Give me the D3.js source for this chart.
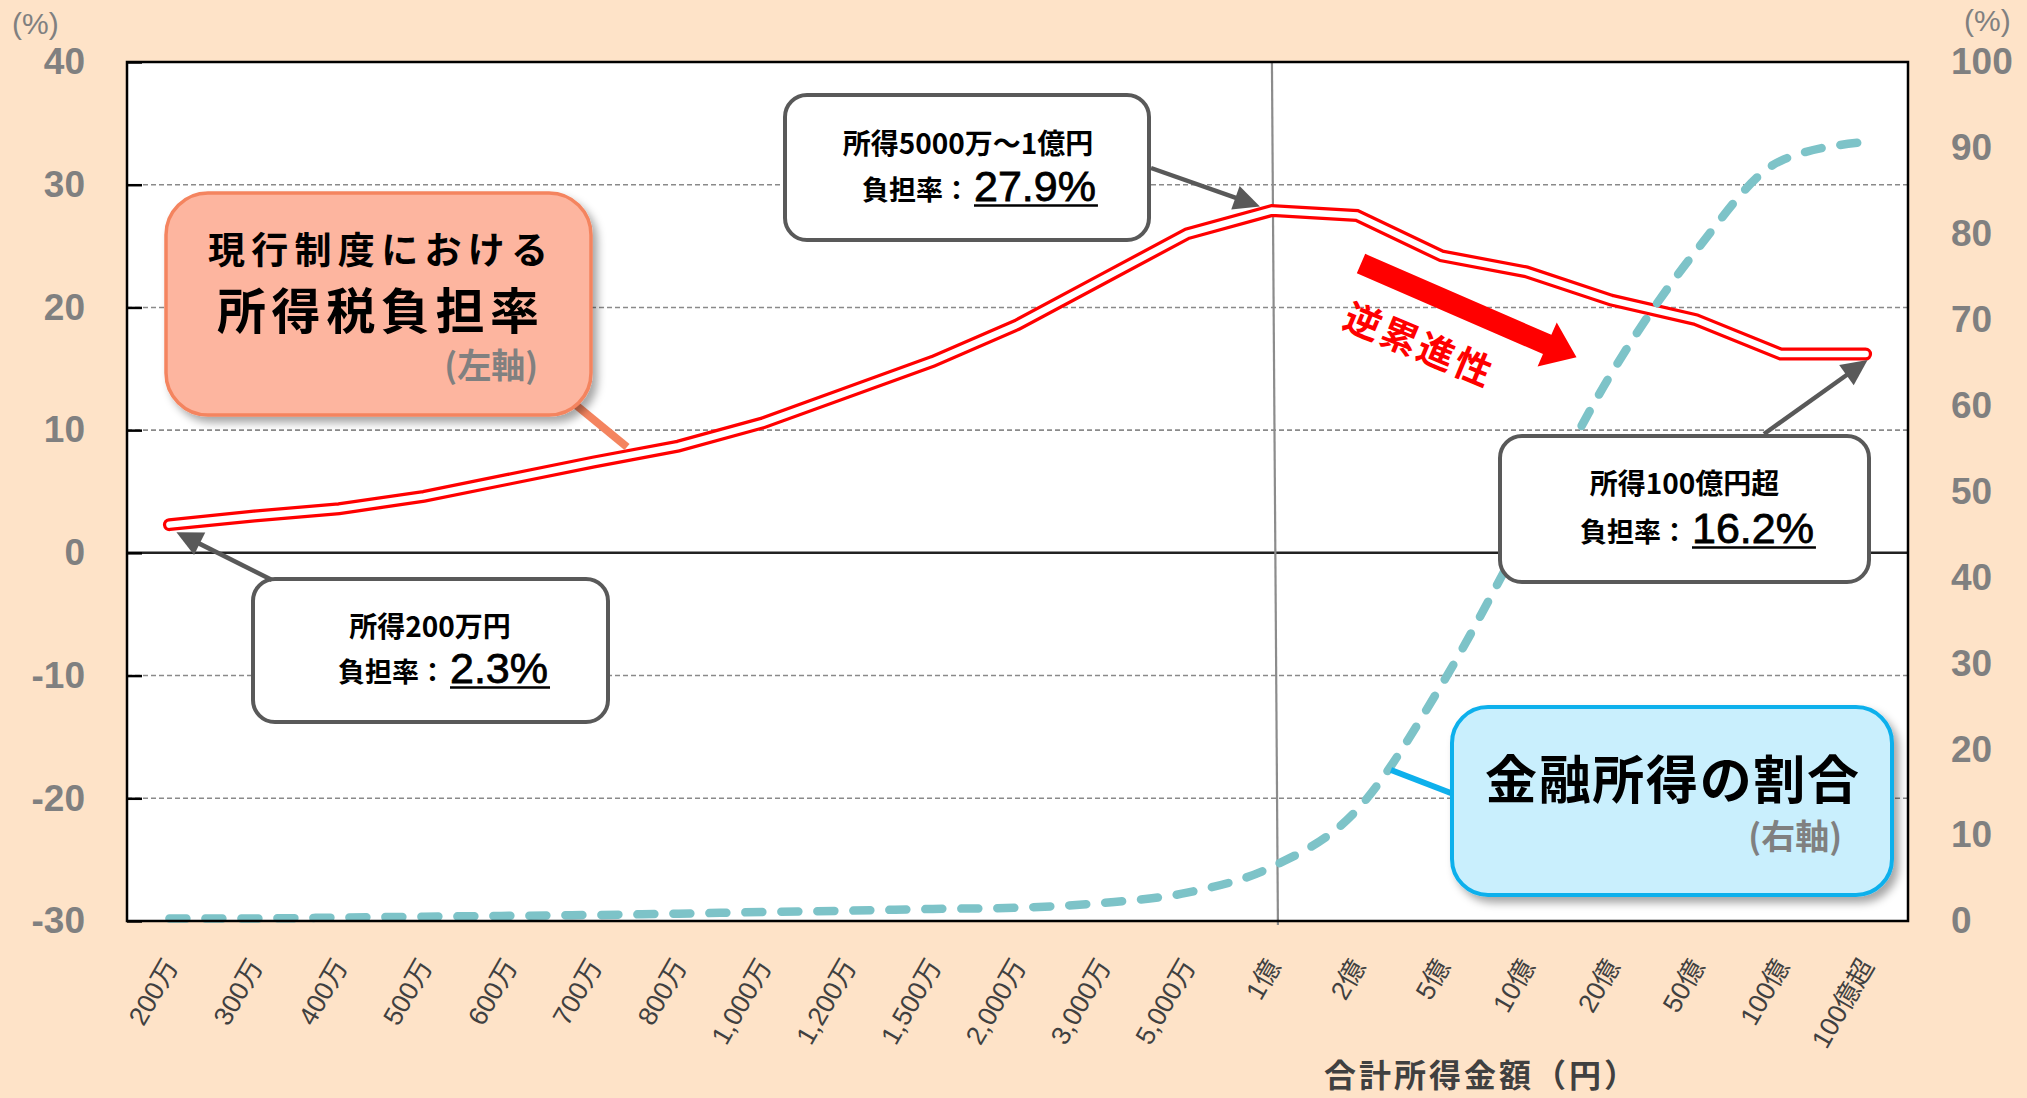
<!DOCTYPE html>
<html>
<head>
<meta charset="utf-8">
<script src="https://cdn.jsdelivr.net/npm/d3@7"></script>
<style>
  html, body { margin: 0; padding: 0; background: #FEE3C8; }
  svg { display: block; }
</style>
</head>
<body>
<svg id="chart" width="2027" height="1098"></svg>
<script>
// ---- data ----
const categories = ["200万","300万","400万","500万","600万","700万","800万","1,000万","1,200万","1,500万",
  "2,000万","3,000万","5,000万","1億","2億","5億","10億","20億","50億","100億","100億超"];
// 所得税負担率 (%), left axis
const taxRate = [2.3, 3.0, 3.6, 4.6, 6.0, 7.4, 8.7, 10.6, 13.1, 15.6,
  18.6, 22.3, 26.0, 27.9, 27.5, 24.2, 22.9, 20.6, 19.0, 16.2, 16.2];
// 金融所得の割合 (%), right axis
const financialShare = [0.3, 0.3, 0.4, 0.5, 0.6, 0.7, 0.85, 1.05, 1.2, 1.4,
  1.55, 2.1, 3.3, 6.3, 12.9, 27.5, 45.5, 63.7, 78.0, 88.5, 90.7];
const leftTicks = [-30, -20, -10, 0, 10, 20, 30, 40];
const rightTicks = [0, 10, 20, 30, 40, 50, 60, 70, 80, 90, 100];
const gridTicks = [-20, -10, 10, 20, 30];
// callouts: category index and first line of text
const calloutIndex = [0, 13, 20];
const calloutTitle = ["所得200万円", "所得5000万～1億円", "所得100億円超"];

// ---- layout ----
const W = 2027, H = 1098;
const plot = { left: 127, right: 1908, top: 62, bottom: 921 };
const fontJP = "'Noto Sans CJK JP', 'Noto Sans CJK SC', sans-serif";
const fontLatin = "'Liberation Sans', Arial, 'Noto Sans CJK JP', sans-serif";

const svg = d3.select("#chart");

const x = d3.scalePoint().domain(categories).range([plot.left, plot.right]).padding(0.5);
const yL = d3.scaleLinear().domain([-30, 40]).range([plot.bottom, plot.top]);
const yR = d3.scaleLinear().domain([0, 100]).range([plot.bottom, plot.top]);

// filters
const defs = svg.append("defs");
const shadow = defs.append("filter").attr("id", "shadow").attr("x", "-10%").attr("y", "-10%")
  .attr("width", "130%").attr("height", "140%");
shadow.append("feDropShadow").attr("dx", 5).attr("dy", 6).attr("stdDeviation", 4)
  .attr("flood-color", "#000").attr("flood-opacity", 0.35);

// background
svg.append("rect").attr("width", W).attr("height", H).attr("fill", "#FEE3C8");
svg.append("rect").attr("x", plot.left).attr("y", plot.top)
  .attr("width", plot.right - plot.left).attr("height", plot.bottom - plot.top)
  .attr("fill", "#fff");

// gridlines
svg.append("g").selectAll("line").data(gridTicks).join("line")
  .attr("x1", plot.left).attr("x2", plot.right)
  .attr("y1", d => yL(d)).attr("y2", d => yL(d))
  .attr("stroke", "#8a8a8a").attr("stroke-width", 1.6).attr("stroke-dasharray", "5 3");
svg.append("line").attr("x1", plot.left).attr("x2", plot.right)
  .attr("y1", yL(0)).attr("y2", yL(0))
  .attr("stroke", "#222").attr("stroke-width", 2.5);

// vertical marker at 1億
svg.append("line")
  .attr("x1", x("1億")).attr("y1", plot.top)
  .attr("x2", x("1億") + 6).attr("y2", plot.bottom + 4)
  .attr("stroke", "#8c8c8c").attr("stroke-width", 2.2);

// tax-rate line: red double line
const redLine = d3.line().x((d, i) => x(categories[i])).y(d => yL(d));
svg.append("path").attr("d", redLine(taxRate))
  .attr("fill", "none").attr("stroke", "#FF0000").attr("stroke-width", 13)
  .attr("stroke-linecap", "round").attr("stroke-linejoin", "miter").attr("stroke-miterlimit", 4);
svg.append("path").attr("d", redLine(taxRate))
  .attr("fill", "none").attr("stroke", "#fff").attr("stroke-width", 6.5)
  .attr("stroke-linecap", "round").attr("stroke-linejoin", "miter").attr("stroke-miterlimit", 4);

// financial-income share: dashed teal line
const tealLine = d3.line().x((d, i) => x(categories[i])).y(d => yR(d)).curve(d3.curveMonotoneX);
svg.append("path").attr("d", tealLine(financialShare))
  .attr("fill", "none").attr("stroke", "#7DC3C8").attr("stroke-width", 8.5)
  .attr("stroke-dasharray", "17 19").attr("stroke-linecap", "round");

// plot border
svg.append("rect").attr("x", plot.left).attr("y", plot.top)
  .attr("width", plot.right - plot.left).attr("height", plot.bottom - plot.top)
  .attr("fill", "none").attr("stroke", "#000").attr("stroke-width", 2.5);

// left axis
const gL = svg.append("g").attr("transform", `translate(${plot.left},0)`)
  .call(d3.axisLeft(yL).tickValues(leftTicks).tickSizeInner(-15).tickSizeOuter(0)
    .tickPadding(42).tickFormat(d => String(d)));
gL.select(".domain").remove();
gL.selectAll(".tick line").attr("stroke", "#000").attr("stroke-width", 2.5);
gL.selectAll(".tick text").attr("fill", "#808080").attr("font-family", fontLatin)
  .attr("font-weight", "bold").attr("font-size", 37);

// right axis
const gR = svg.append("g").attr("transform", `translate(${plot.right},0)`)
  .call(d3.axisRight(yR).tickValues(rightTicks).tickSize(0).tickPadding(43).tickFormat(d => String(d)));
gR.select(".domain").remove();
gR.selectAll(".tick text").attr("fill", "#808080").attr("font-family", fontLatin)
  .attr("font-weight", "bold").attr("font-size", 37);

// bottom axis
const gB = svg.append("g").attr("transform", `translate(0,${plot.bottom})`)
  .call(d3.axisBottom(x).tickSize(0));
gB.select(".domain").remove();
gB.selectAll(".tick text")
  .attr("x", 0).attr("y", 0).attr("dy", 0)
  .attr("text-anchor", "end")
  .attr("transform", "translate(9,45) rotate(-60)")
  .attr("fill", "#404040").attr("font-family", fontLatin).attr("font-size", 26.5);

// axis unit labels
svg.append("text").attr("x", 12).attr("y", 34).text("(%)")
  .attr("fill", "#808080").attr("font-family", fontLatin).attr("font-size", 30);
svg.append("text").attr("x", 1964).attr("y", 31).text("(%)")
  .attr("fill", "#808080").attr("font-family", fontLatin).attr("font-size", 30);

// x-axis title
svg.append("text").attr("x", 1480).attr("y", 1073).attr("dominant-baseline", "central")
  .attr("text-anchor", "middle").text("合計所得金額（円）")
  .attr("textLength", 312).attr("lengthAdjust", "spacing")
  .attr("fill", "#404040").attr("font-family", fontJP).attr("font-weight", "bold").attr("font-size", 32);

// ---- series labels ----
// tax-rate label box
svg.append("line").attr("x1", 560).attr("y1", 392).attr("x2", 627).attr("y2", 447)
  .attr("stroke", "#F4845F").attr("stroke-width", 8);
svg.append("rect").attr("x", 166).attr("y", 193).attr("width", 425).attr("height", 222)
  .attr("rx", 42).attr("fill", "#FDB59F").attr("stroke", "#F4845F").attr("stroke-width", 3.5)
  .attr("filter", "url(#shadow)");
svg.append("text").attr("x", 378).attr("y", 248).attr("dominant-baseline", "central")
  .attr("text-anchor", "middle").text("現行制度における")
  .attr("textLength", 340).attr("lengthAdjust", "spacing")
  .attr("font-family", fontJP).attr("font-weight", "bold").attr("font-size", 37).attr("fill", "#000");
svg.append("text").attr("x", 378).attr("y", 307).attr("dominant-baseline", "central")
  .attr("text-anchor", "middle").text("所得税負担率")
  .attr("textLength", 322).attr("lengthAdjust", "spacing")
  .attr("font-family", fontJP).attr("font-weight", "bold").attr("font-size", 49).attr("fill", "#000");
svg.append("text").attr("x", 538).attr("y", 363).attr("dominant-baseline", "central")
  .attr("text-anchor", "end").text("(左軸)")
  .attr("font-family", fontJP).attr("font-weight", "bold").attr("font-size", 34).attr("fill", "#808080");

// financial-share label box
svg.append("line").attr("x1", 1391).attr("y1", 770).attr("x2", 1456).attr("y2", 795)
  .attr("stroke", "#0EB0EC").attr("stroke-width", 6);
svg.append("rect").attr("x", 1452).attr("y", 707).attr("width", 440).attr("height", 188)
  .attr("rx", 36).attr("fill", "#C9EFFD").attr("stroke", "#0EB0EC").attr("stroke-width", 4)
  .attr("filter", "url(#shadow)");
svg.append("text").attr("x", 1672).attr("y", 776).attr("dominant-baseline", "central")
  .attr("text-anchor", "middle").text("金融所得の割合")
  .attr("textLength", 374).attr("lengthAdjust", "spacing")
  .attr("font-family", fontJP).attr("font-weight", "bold").attr("font-size", 52).attr("fill", "#000");
svg.append("text").attr("x", 1842).attr("y", 834).attr("dominant-baseline", "central")
  .attr("text-anchor", "end").text("(右軸)")
  .attr("font-family", fontJP).attr("font-weight", "bold").attr("font-size", 34).attr("fill", "#808080");

// ---- regressivity arrow ----
const arrowLen = 235, bodyHalf = 10.5, headLen = 32, headHalf = 24;
svg.append("polygon")
  .attr("points", [[0, -bodyHalf], [arrowLen - headLen, -bodyHalf], [arrowLen - headLen, -headHalf],
    [arrowLen, 0], [arrowLen - headLen, headHalf], [arrowLen - headLen, bodyHalf], [0, bodyHalf]]
    .map(p => p.join(",")).join(" "))
  .attr("transform", "translate(1361,263.5) rotate(23.5)")
  .attr("fill", "#FF0000");
svg.append("text").attr("text-anchor", "middle").attr("dominant-baseline", "central")
  .attr("transform", "translate(1419,342) rotate(22.5)")
  .text("逆累進性").attr("textLength", 156).attr("lengthAdjust", "spacing")
  .attr("font-family", fontJP).attr("font-weight", "bold").attr("font-size", 37).attr("fill", "#FF0000");

// ---- value callouts ----
const callouts = [
  { box: [253, 579, 355, 143], title: [430, 624.5], rateX: 338, base: 682, from: [272, 580], off: [7, 7.5] },
  { box: [785, 95, 364, 145], title: [968, 141.5], rateX: 862, base: 200, from: [1151, 168], off: [-12, -4] },
  { box: [1500, 436, 369, 146], title: [1684.5, 481.5], rateX: 1580, base: 542, from: [1764, 434], off: [2, 6] }
];

function drawArrow(from, tip) {
  const dx = tip[0] - from[0], dy = tip[1] - from[1];
  const len = Math.hypot(dx, dy), ux = dx / len, uy = dy / len;
  const hl = 26, hw = 12.5;
  const bx = tip[0] - ux * hl, by = tip[1] - uy * hl;
  svg.append("line").attr("x1", from[0]).attr("y1", from[1]).attr("x2", bx + ux * 2).attr("y2", by + uy * 2)
    .attr("stroke", "#595959").attr("stroke-width", 4.5);
  svg.append("polygon")
    .attr("points", [[tip[0], tip[1]], [bx - uy * hw, by + ux * hw], [bx + uy * hw, by - ux * hw]]
      .map(p => p.join(",")).join(" "))
    .attr("fill", "#595959");
}

callouts.forEach((c, k) => {
  const i = calloutIndex[k];
  const value = taxRate[i];
  const px = x(categories[i]), py = yL(value);
  svg.append("rect").attr("x", c.box[0]).attr("y", c.box[1]).attr("width", c.box[2]).attr("height", c.box[3])
    .attr("rx", 22).attr("fill", "#fff").attr("stroke", "#595959").attr("stroke-width", 4);
  svg.append("text").attr("x", c.title[0]).attr("y", c.title[1]).attr("dominant-baseline", "central")
    .attr("text-anchor", "middle").text(calloutTitle[k])
    .attr("font-family", fontJP).attr("font-weight", "bold").attr("font-size", 28).attr("fill", "#000");
  const t = svg.append("text").attr("x", c.rateX).attr("y", c.base)
    .attr("font-family", fontJP).attr("font-weight", "bold").attr("font-size", 27).attr("fill", "#000");
  t.append("tspan").text("負担率：");
  const num = svg.append("text").attr("x", c.rateX + 112).attr("y", c.base + 1)
    .text(value.toFixed(1) + "%")
    .attr("font-family", fontLatin).attr("font-size", 43).attr("fill", "#000")
    .attr("stroke", "#000").attr("stroke-width", 0.8);
  const w = num.node().getComputedTextLength();
  svg.append("line").attr("x1", c.rateX + 112).attr("x2", c.rateX + 112 + w + 2)
    .attr("y1", c.base + 5.5).attr("y2", c.base + 5.5)
    .attr("stroke", "#000").attr("stroke-width", 2.5);
  drawArrow(c.from, [px + c.off[0], py + c.off[1]]);
});
</script>
</body>
</html>
